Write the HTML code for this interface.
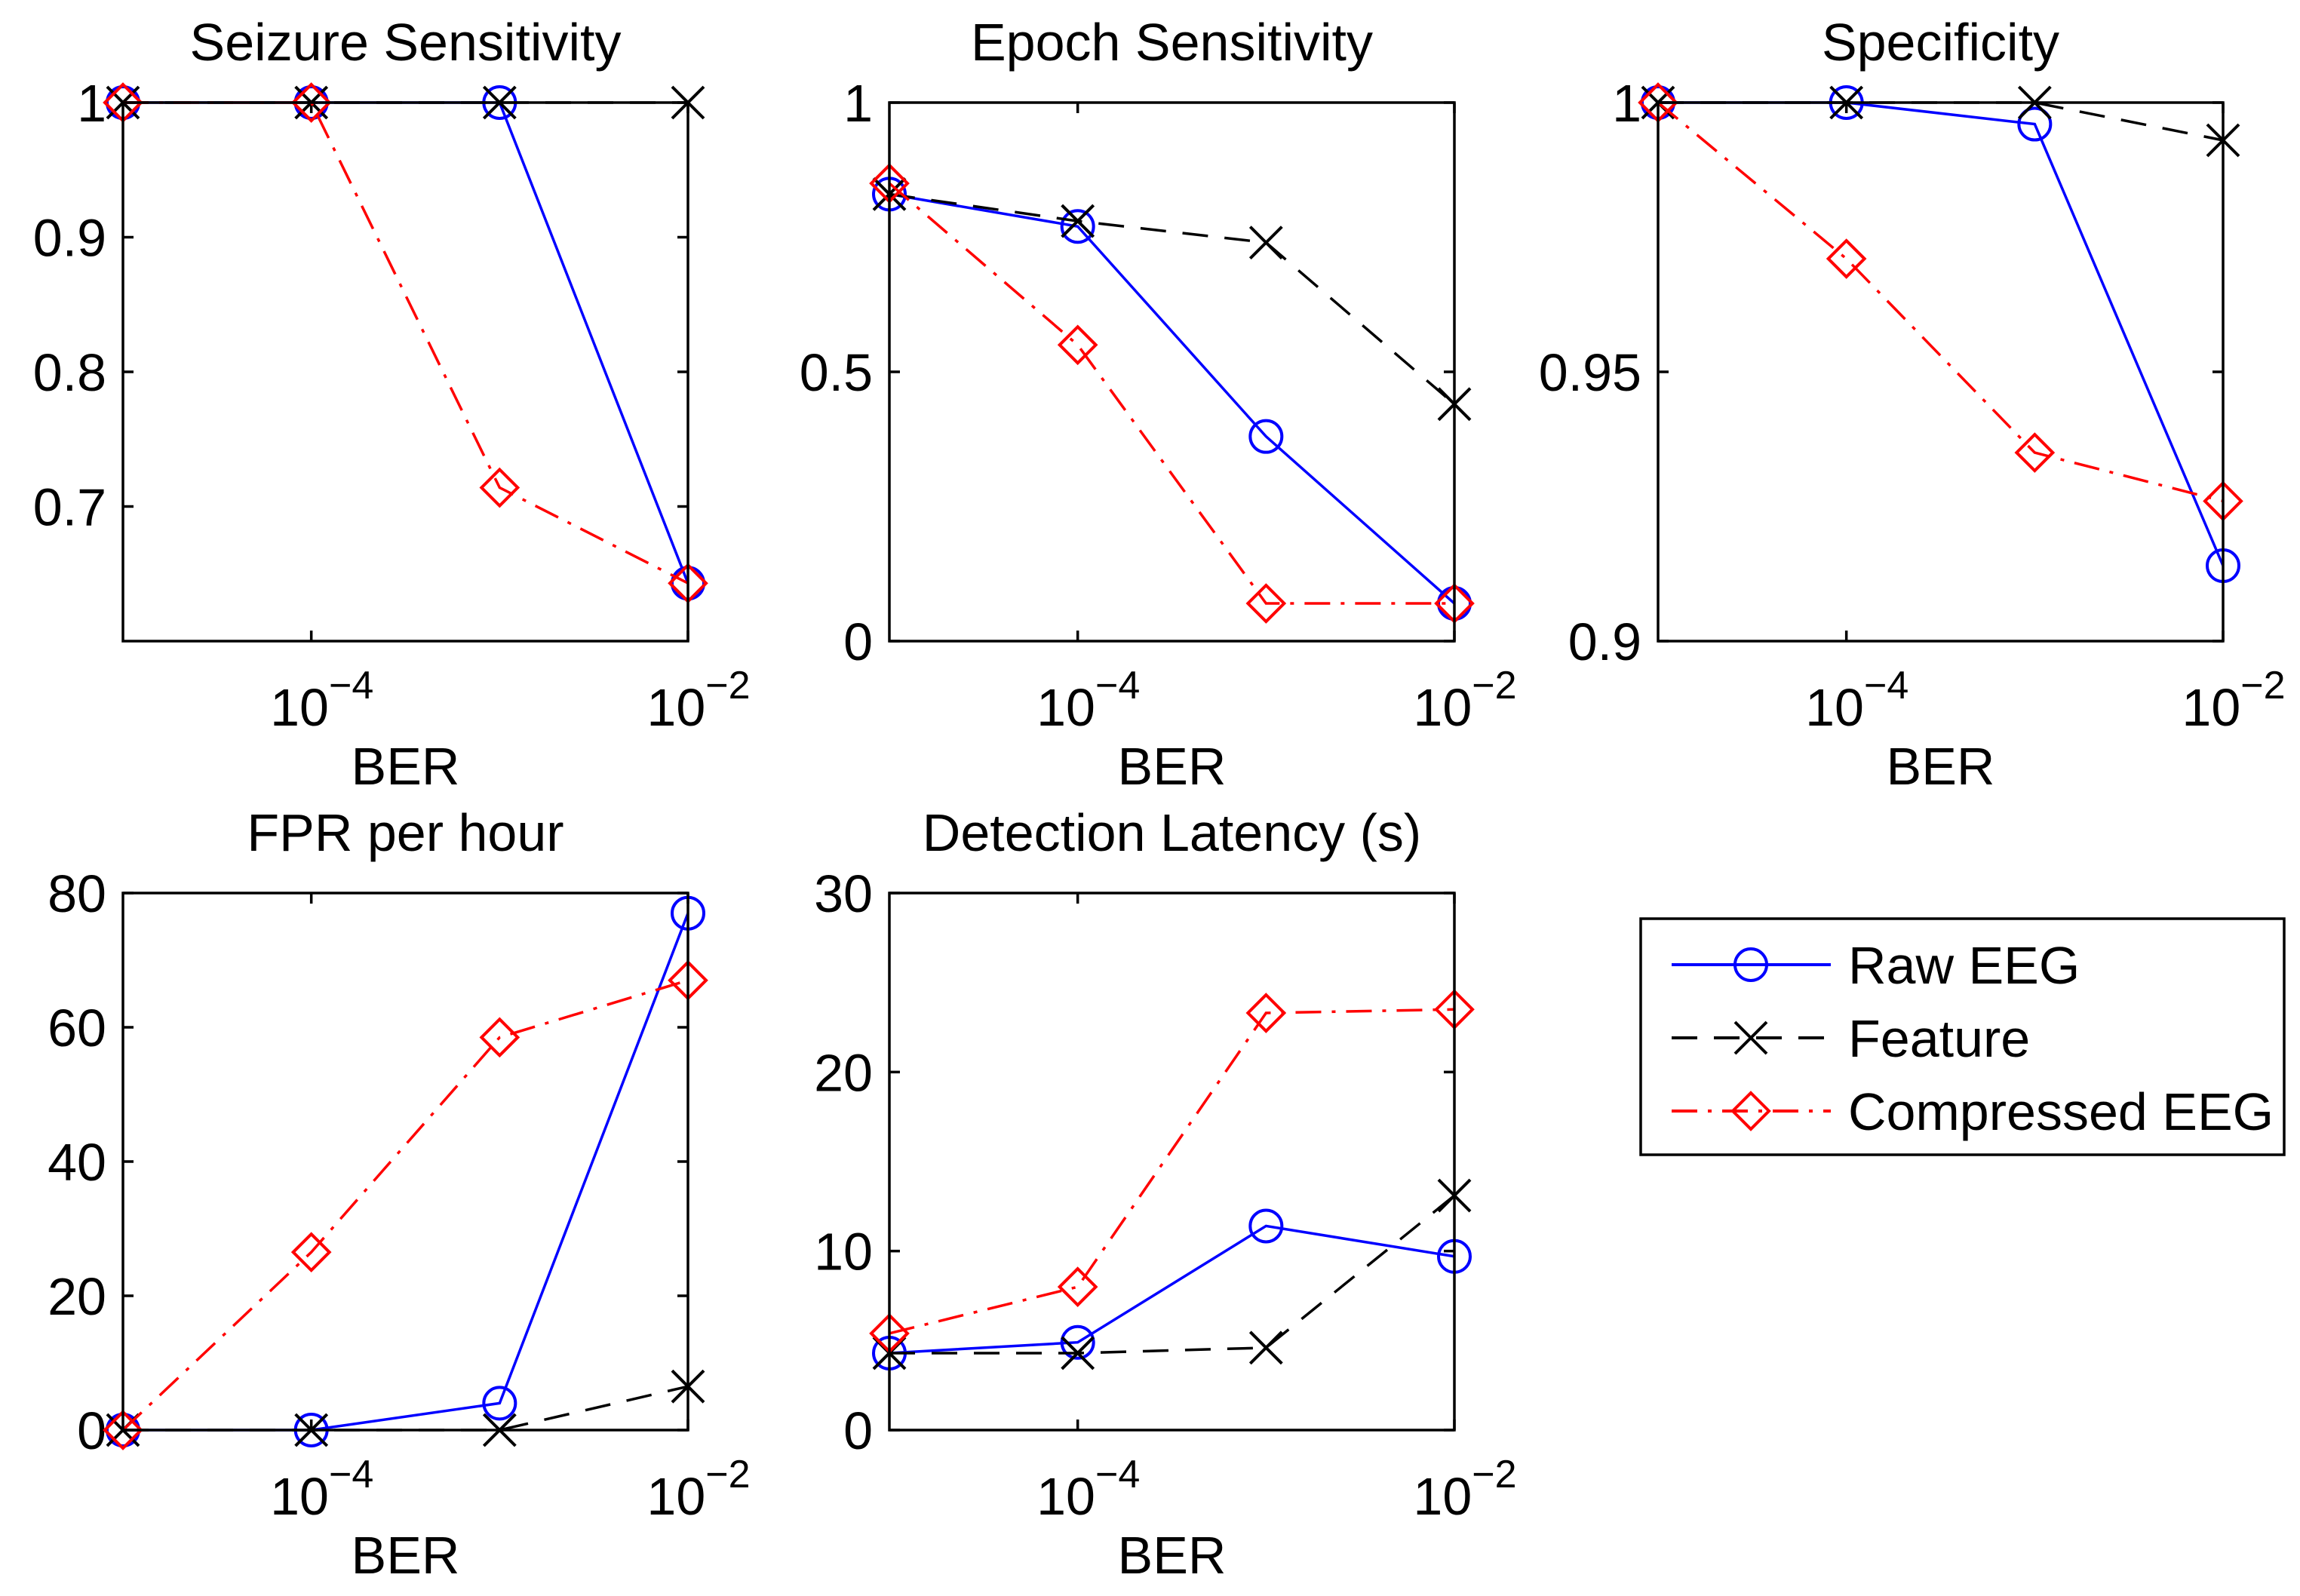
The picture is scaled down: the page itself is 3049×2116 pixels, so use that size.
<!DOCTYPE html>
<html><head><meta charset="utf-8"><style>
html,body{margin:0;padding:0;background:#fff;}
svg{display:block;font-family:"Liberation Sans",Arial,sans-serif;}
</style></head><body>
<svg id="fig" width="3049" height="2116" viewBox="0 0 3049 2116" xmlns="http://www.w3.org/2000/svg"></svg>
<script>
// x values (BER)
const berValues = [1e-5, 1e-4, 1e-3, 1e-2];
const xTickValues = [1e-4, 1e-2];
const xTickExps = ["−4", "−2"];
const seriesNames = ["Raw EEG", "Feature", "Compressed EEG"];

const seizureRaw = [1, 1, 1, 0.643];
const seizureFeature = [1, 1, 1, 1];
const seizureComp = [1, 1, 0.714, 0.643];
const seizureTicks = [0.7, 0.8, 0.9, 1];
const seizureTickLabels = ["0.7", "0.8", "0.9", "1"];

const epochRaw = [0.83, 0.77, 0.38, 0.07];
const epochFeature = [0.83, 0.78, 0.74, 0.44];
const epochComp = [0.85, 0.55, 0.07, 0.07];
const epochTicks = [0, 0.5, 1];
const epochTickLabels = ["0", "0.5", "1"];

const specRaw = [1, 1, 0.996, 0.914];
const specFeature = [1, 1, 1, 0.993];
const specComp = [1, 0.971, 0.935, 0.926];
const specTicks = [0.9, 0.95, 1];
const specTickLabels = ["0.9", "0.95", "1"];

const fprRaw = [0, 0, 4, 77];
const fprFeature = [0, 0, 0, 6.5];
const fprComp = [0, 26.5, 58.5, 67];
const fprTicks = [0, 20, 40, 60, 80];
const fprTickLabels = ["0", "20", "40", "60", "80"];

const latRaw = [4.3, 4.9, 11.4, 9.7];
const latFeature = [4.3, 4.3, 4.6, 13.1];
const latComp = [5.4, 8, 23.3, 23.5];
const latTicks = [0, 10, 20, 30];
const latTickLabels = ["0", "10", "20", "30"];

const NS = "http://www.w3.org/2000/svg";
const svg = document.getElementById("fig");
function mk(tag, attrs, parent) {
  const e = document.createElementNS(NS, tag);
  for (const k in attrs) e.setAttribute(k, attrs[k]);
  (parent || svg).appendChild(e);
  return e;
}

const FS = 70;
const panels = [
  {name:"seizure-sensitivity", title:"Seizure Sensitivity", x0:163, x1:912, y0:136, y1:850, ymin:0.6, ymax:1, ticks:seizureTicks, labels:seizureTickLabels, data:[seizureRaw, seizureFeature, seizureComp]},
  {name:"epoch-sensitivity", title:"Epoch Sensitivity", x0:1179, x1:1928, y0:136, y1:850, ymin:0, ymax:1, ticks:epochTicks, labels:epochTickLabels, data:[epochRaw, epochFeature, epochComp]},
  {name:"specificity", title:"Specificity", x0:2198, x1:2947, y0:136, y1:850, ymin:0.9, ymax:1, ticks:specTicks, labels:specTickLabels, data:[specRaw, specFeature, specComp]},
  {name:"fpr-per-hour", title:"FPR per hour", x0:163, x1:912, y0:1184, y1:1896, ymin:0, ymax:80, ticks:fprTicks, labels:fprTickLabels, data:[fprRaw, fprFeature, fprComp]},
  {name:"detection-latency", title:"Detection Latency (s)", x0:1179, x1:1928, y0:1184, y1:1896, ymin:0, ymax:30, ticks:latTicks, labels:latTickLabels, data:[latRaw, latFeature, latComp]}
];

const styles = [
  {color:"#0000ff", dash:"none", marker:"circle"},
  {color:"#000000", dash:"34,22", marker:"x"},
  {color:"#ff0000", dash:"34,14,5,14", marker:"diamond"}
];

function drawMarker(g, type, x, y, color) {
  const r = 21;
  if (type === "circle") {
    const c = mk("circle", {cx:x, cy:y, r:r, fill:"none", stroke:color, "stroke-width":4}, g);
    
    
  } else if (type === "x") {
    const p = mk("path", {d:`M${x-r} ${y-r}L${x+r} ${y+r}M${x-r} ${y+r}L${x+r} ${y-r}`, stroke:color, "stroke-width":4, fill:"none"}, g);
    
    
  } else {
    const d = 24;
    const p = mk("path", {d:`M${x} ${y-d}L${x+d} ${y}L${x} ${y+d}L${x-d} ${y}Z`, stroke:color, "stroke-width":4, fill:"none"}, g);
    
    
  }
}

const lmin = Math.log10(1e-5), lmax = Math.log10(1e-2);
panels.forEach(p => {
  const g = mk("g", {});
  
  
  const xs = v => p.x0 + (Math.log10(v) - lmin) / (lmax - lmin) * (p.x1 - p.x0);
  const ys = v => p.y1 - (v - p.ymin) / (p.ymax - p.ymin) * (p.y1 - p.y0);

  const t = mk("text", {x:(p.x0+p.x1)/2, y:p.y0-56, "text-anchor":"middle", "font-size":FS, fill:"#000"}, g);
  t.textContent = p.title;
  
  

  p.ticks.forEach((tv, i) => {
    const y = ys(tv);
    mk("line", {x1:p.x0, x2:p.x0+14, y1:y, y2:y, stroke:"#000", "stroke-width":3.5}, g);
    mk("line", {x1:p.x1, x2:p.x1-14, y1:y, y2:y, stroke:"#000", "stroke-width":3.5}, g);
    const l = mk("text", {x:p.x0-22, y:y+25, "text-anchor":"end", "font-size":FS, fill:"#000"}, g);
    l.textContent = p.labels[i];
    
    
  });
  xTickValues.forEach((tv, i) => {
    const x = xs(tv);
    mk("line", {x1:x, x2:x, y1:p.y1, y2:p.y1-14, stroke:"#000", "stroke-width":3.5}, g);
    mk("line", {x1:x, x2:x, y1:p.y0, y2:p.y0+14, stroke:"#000", "stroke-width":3.5}, g);
    const l = mk("text", {x:x+14, y:p.y1+112, "text-anchor":"middle", "font-size":FS, fill:"#000"}, g);
    l.innerHTML = '10<tspan dy="-36" font-size="52">' + xTickExps[i] + '</tspan>';
    
    
  });
  const xl = mk("text", {x:(p.x0+p.x1)/2, y:p.y1+190, "text-anchor":"middle", "font-size":FS, fill:"#000"}, g);
  xl.textContent = "BER";
  
  

  p.data.forEach((vals, si) => {
    const s = styles[si];
    const pts = vals.map((v, i) => xs(berValues[i]) + "," + ys(v)).join(" ");
    const pl = mk("polyline", {points:pts, fill:"none", stroke:s.color, "stroke-width":3.5, "stroke-dasharray":s.dash}, g);
    
    
    vals.forEach((v, i) => drawMarker(g, s.marker, xs(berValues[i]), ys(v), s.color));
  });

  const box = mk("rect", {x:p.x0, y:p.y0, width:p.x1-p.x0, height:p.y1-p.y0, fill:"none", stroke:"#000", "stroke-width":3.5}, g);
  
  
});

const lg = mk("g", {});


mk("rect", {x:2175, y:1218, width:853, height:313, fill:"#fff", stroke:"#000", "stroke-width":3.5}, lg);
seriesNames.forEach((n, i) => {
  const y = 1279 + i * 97;
  const s = styles[i];
  const e = mk("g", {}, lg);
  
  
  mk("line", {x1:2216, x2:2427, y1:y, y2:y, stroke:s.color, "stroke-width":4, "stroke-dasharray":s.dash}, e);
  drawMarker(e, s.marker, 2321, y, s.color);
  const t = mk("text", {x:2450, y:y+25, "font-size":FS, fill:"#000"}, e);
  t.textContent = n;
});
</script>
</body></html>
